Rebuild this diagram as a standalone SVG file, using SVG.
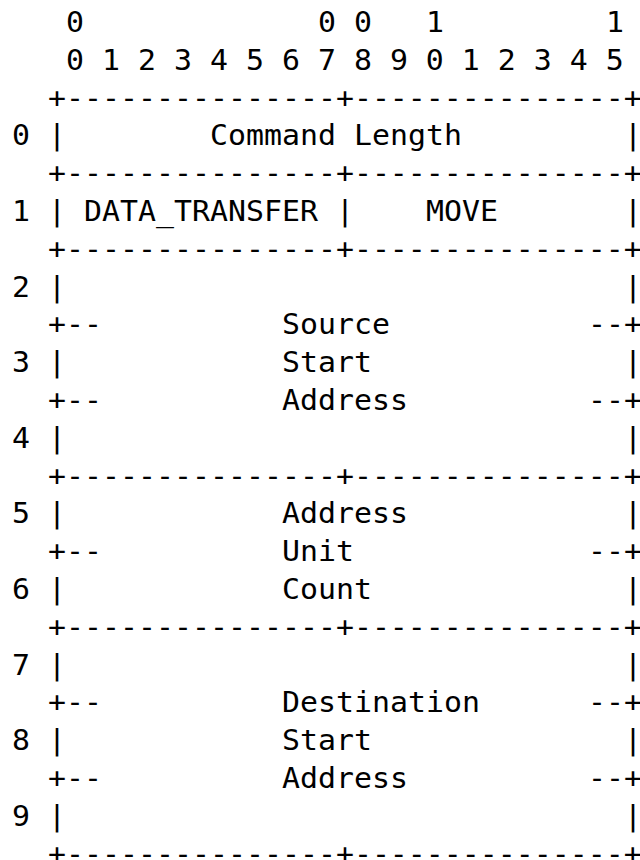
<svg xmlns="http://www.w3.org/2000/svg" width="640" height="860" viewBox="0 0 640 860">
<style>
text{font-family:"DejaVu Sans Mono","Liberation Mono",monospace;font-size:28px;fill:#000;white-space:pre}
</style>
<rect width="640" height="860" fill="#fff"/>
<g transform="scale(1.06782,1)">
<g id="header">
<text x="61.808" y="32">0</text><text x="297.803" y="32">0 0</text><text x="398.944" y="32">1</text><text x="567.511" y="32">1</text>
<text x="61.808" y="69.8">0 1 2 3 4 5 6 7 8 9 0 1 2 3 4 5</text>
</g>
<g id="connectors">
<text x="44.951" y="107.6">+---------------+---------------+</text>
<text x="44.951" y="183.2">+---------------+---------------+</text>
<text x="44.951" y="258.8">+---------------+---------------+</text>
<text x="44.951" y="485.6">+---------------+---------------+</text>
<text x="44.951" y="636.8">+---------------+---------------+</text>
<text x="44.951" y="863.6">+---------------+---------------+</text>
<text x="44.951" y="145.4">|</text><text x="584.368" y="145.4">|</text>
<text x="44.951" y="221">|</text><text x="314.660" y="221">|</text><text x="584.368" y="221">|</text>
<text x="44.951" y="296.6">|</text><text x="584.368" y="296.6">|</text>
<text x="44.951" y="334.4">+--</text><text x="550.654" y="334.4">--+</text>
<text x="44.951" y="372.2">|</text><text x="584.368" y="372.2">|</text>
<text x="44.951" y="410">+--</text><text x="550.654" y="410">--+</text>
<text x="44.951" y="447.8">|</text><text x="584.368" y="447.8">|</text>
<text x="44.951" y="523.4">|</text><text x="584.368" y="523.4">|</text>
<text x="44.951" y="561.2">+--</text><text x="550.654" y="561.2">--+</text>
<text x="44.951" y="599">|</text><text x="584.368" y="599">|</text>
<text x="44.951" y="674.6">|</text><text x="584.368" y="674.6">|</text>
<text x="44.951" y="712.4">+--</text><text x="550.654" y="712.4">--+</text>
<text x="44.951" y="750.2">|</text><text x="584.368" y="750.2">|</text>
<text x="44.951" y="788">+--</text><text x="550.654" y="788">--+</text>
<text x="44.951" y="825.8">|</text><text x="584.368" y="825.8">|</text>
</g>
<g id="row-labels">
<text x="11.238" y="145.4">0</text>
<text x="11.238" y="221">1</text>
<text x="11.238" y="296.6">2</text>
<text x="11.238" y="372.2">3</text>
<text x="11.238" y="447.8">4</text>
<text x="11.238" y="523.4">5</text>
<text x="11.238" y="599">6</text>
<text x="11.238" y="674.6">7</text>
<text x="11.238" y="750.2">8</text>
<text x="11.238" y="825.8">9</text>
</g>
<g id="command-length"><text x="196.662" y="145.4">Command Length</text></g>
<g id="data-transfer"><text x="78.665" y="221">DATA_TRANSFER</text></g>
<g id="move"><text x="398.944" y="221">MOVE</text></g>
<g id="source-start-address">
<text x="264.089" y="334.4">Source</text>
<text x="264.089" y="372.2">Start</text>
<text x="264.089" y="410">Address</text>
</g>
<g id="address-unit-count">
<text x="264.089" y="523.4">Address</text>
<text x="264.089" y="561.2">Unit</text>
<text x="264.089" y="599">Count</text>
</g>
<g id="destination-start-address">
<text x="264.089" y="712.4">Destination</text>
<text x="264.089" y="750.2">Start</text>
<text x="264.089" y="788">Address</text>
</g>
</g>
</svg>
